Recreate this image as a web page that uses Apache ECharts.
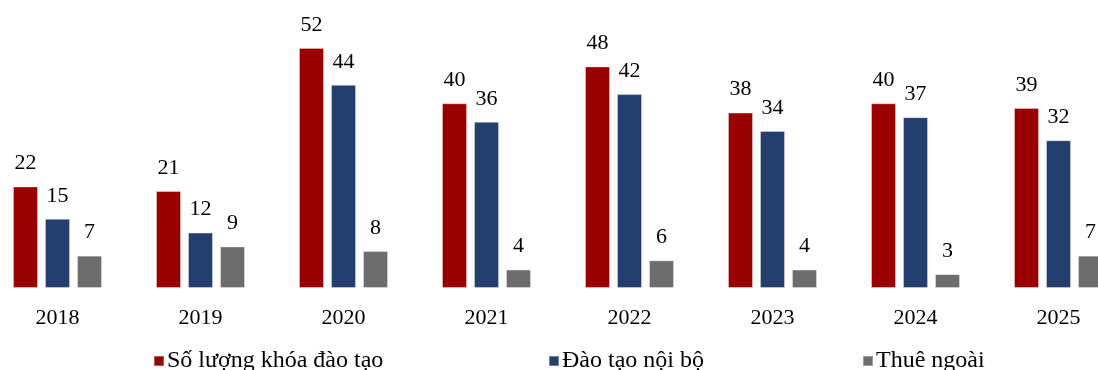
<!DOCTYPE html>
<html>
<head>
<meta charset="utf-8">
<script src="https://cdn.jsdelivr.net/npm/echarts@6/dist/echarts.min.js"></script>
<style>
  html, body { margin: 0; padding: 0; background: #ffffff; }
  #chart { width: 1098px; height: 370px; }
</style>
</head>
<body>
<div id="chart"></div>
<script>
// Training courses by year
const years = ['2018', '2019', '2020', '2021', '2022', '2023', '2024', '2025'];
const totalCourses = [22, 21, 52, 40, 48, 38, 40, 39];
const internalCourses = [15, 12, 44, 36, 42, 34, 37, 32];
const outsourcedCourses = [7, 9, 8, 4, 6, 4, 3, 7];
const seriesNames = ['Số lượng khóa đào tạo', 'Đào tạo nội bộ', 'Thuê ngoài'];
const seriesColors = ['#990000', '#243f6e', '#6d6d6d'];

const FONT = '"Liberation Serif", "Times New Roman", serif';

const chart = echarts.init(document.getElementById('chart'), null, { renderer: 'canvas' });

function barSeries(name, data, color) {
  return {
    name: name,
    type: 'bar',
    data: data,
    barWidth: 25,
    barGap: '28%',
    itemStyle: { color: color, borderColor: 'rgba(255,255,255,0.35)', borderWidth: 1 },
    label: {
      show: true,
      position: 'top',
      distance: 12,
      color: '#000',
      fontFamily: FONT,
      fontSize: 22
    }
  };
}

function legendAt(name, left) {
  return {
    data: [name],
    left: left,
    top: 349,
    itemWidth: 10,
    itemHeight: 10,
    icon: 'rect',
    itemGap: 0,
    textStyle: { fontFamily: FONT, fontSize: 24, color: '#000', padding: [0, 0, 0, -2] },
    padding: 0
  };
}

chart.setOption({
  animation: false,
  backgroundColor: '#ffffff',
  legend: [
    legendAt(seriesNames[0], 153),
    legendAt(seriesNames[1], 548),
    legendAt(seriesNames[2], 862)
  ],
  // the plot runs past both canvas edges, so the last group is clipped on the right
  grid: { left: -14, width: 1144, top: 11, bottom: 82, containLabel: false, outerBoundsMode: 'none' },
  xAxis: {
    type: 'category',
    data: years,
    axisLine: { show: false },
    axisTick: { show: false },
    axisLabel: { color: '#000', fontFamily: FONT, fontSize: 22, margin: 19 }
  },
  yAxis: {
    type: 'value',
    min: 0,
    max: 60,
    show: false,
    splitLine: { show: false }
  },
  series: [
    barSeries(seriesNames[0], totalCourses, seriesColors[0]),
    barSeries(seriesNames[1], internalCourses, seriesColors[1]),
    barSeries(seriesNames[2], outsourcedCourses, seriesColors[2])
  ]
});
</script>
</body>
</html>
